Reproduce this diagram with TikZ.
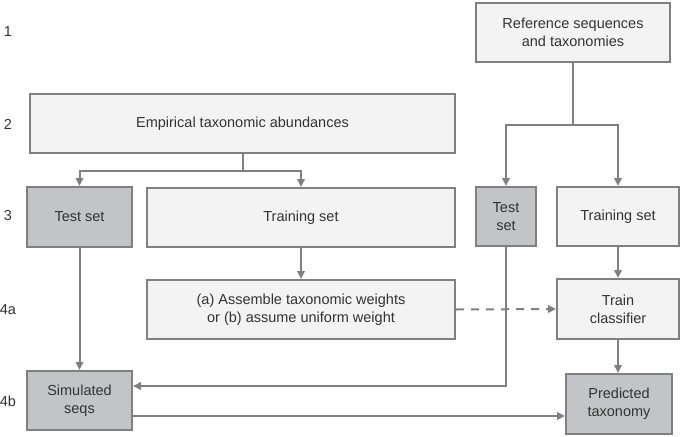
\documentclass[tikz,border=0pt]{standalone}
\usepackage{fontspec}
\setmainfont{Liberation Sans}
\usetikzlibrary{arrows.meta,calc}
\definecolor{lightfill}{HTML}{F3F3F3}
\definecolor{darkfill}{HTML}{C3C4C7}
\definecolor{edgegray}{HTML}{808080}
\definecolor{txt}{HTML}{333333}
\begin{document}
\begin{tikzpicture}[x=1pt,y=-1pt,
  box/.style={draw=edgegray,line width=2pt,fill=lightfill,text=txt,align=center,inner sep=0pt,
    font=\fontsize{14.5}{18}\selectfont},
  darkbox/.style={box,fill=darkfill},
  rowlab/.style={text=txt,font=\fontsize{14.5}{18}\selectfont,inner sep=0pt},
  arr/.style={draw=edgegray,line width=2pt,-{Triangle[length=8pt,width=7.5pt]}},
  conn/.style={draw=edgegray,line width=2pt}]
\useasboundingbox (0,0) rectangle (682,436);
% row labels
\node[rowlab] (r1) at (8,32) {1};
\node[rowlab] (r2) at (8,124) {2};
\node[rowlab] (r3) at (8,216) {3};
\node[rowlab] (r4a) at (8,310) {4a};
\node[rowlab] (r4b) at (8,401) {4b};
% boxes
\node[box,minimum width=194pt,minimum height=59pt] (ref) at (573,32.5) {Reference sequences\\and taxonomies};
\node[box,minimum width=425pt,minimum height=59pt] (emp) at (242.5,123.5) {Empirical taxonomic abundances};
\node[darkbox,minimum width=105pt,minimum height=60pt] (test1) at (79.5,217) {Test set};
\node[box,minimum width=308pt,minimum height=59pt] (train1) at (301,217.5) {Training set};
\node[darkbox,minimum width=60pt,minimum height=59pt] (test2) at (506,216.5) {Test\\set};
\node[box,minimum width=122pt,minimum height=59pt] (train2) at (618,216.5) {Training set};
\node[box,minimum width=308pt,minimum height=59pt] (asm) at (301,309.5) {(a) Assemble taxonomic weights\\or (b) assume uniform weight};
\node[box,minimum width=122pt,minimum height=60pt] (trainc) at (618,309) {Train\\classifier};
\node[darkbox,minimum width=105pt,minimum height=59pt] (sim) at (79.5,400.5) {Simulated\\seqs};
\node[darkbox,minimum width=106pt,minimum height=60pt] (pred) at (619,404) {Predicted\\taxonomy};
% connectors
\coordinate (ej) at ($(emp.south)+(0,17)$);
\draw[conn] (emp.south) -- (ej);
\draw[arr] (ej) -| (test1.north);
\draw[arr] (ej) -| (train1.north);
\coordinate (rj) at ($(ref.south)+(0,62)$);
\draw[conn] (ref.south) -- (rj);
\draw[arr] (rj) -| (test2.north);
\draw[arr] (rj) -| (train2.north);
\draw[arr] (test1.south) -- (sim.north);
\draw[arr] (train1.south) -- (asm.north);
\draw[arr] (train2.south) -- (trainc.north);
\draw[arr] (trainc.south) -- (trainc.south |- pred.north);
\draw[arr,dash pattern=on 8pt off 7pt] (asm.east) -- (trainc.west);
\draw[arr] (test2.south) |- ([yshift=14.5pt]sim.east);
\coordinate (so) at ([yshift=-15.5pt]sim.east);
\draw[arr] (so) -- (so -| pred.west);
\end{tikzpicture}
\end{document}
